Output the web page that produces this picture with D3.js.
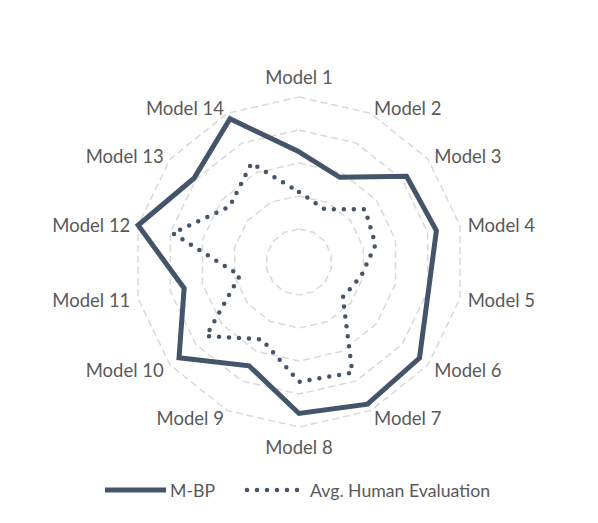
<!DOCTYPE html>
<html>
<head>
<meta charset="utf-8">
<script src="https://cdn.jsdelivr.net/npm/d3@7"></script>
<style>
  body { margin: 0; background: #fff; }
  text { font-family: Lato, "Open Sans", sans-serif; fill: #595959; }
</style>
</head>
<body>
<script>
const width = 598;
const height = 523;

// data
const models = ["Model 1", "Model 2", "Model 3", "Model 4", "Model 5", "Model 6", "Model 7",
                "Model 8", "Model 9", "Model 10", "Model 11", "Model 12", "Model 13", "Model 14"];
const mbp = [3.34, 2.85, 4.17, 4.27, 4.02, 4.67, 4.78, 4.59, 3.49, 4.65, 3.57, 5.0, 4.07, 4.82];
const human = [2.12, 1.78, 2.56, 2.38, 1.93, 1.70, 3.72, 3.63, 2.60, 3.60, 1.84, 3.93, 2.69, 3.32];
const levels = [1, 2, 3, 4, 5];
const seriesNames = ["M-BP", "Avg. Human Evaluation"];

const cx = 299, cy = 262, outer = 165;
const navy = "#44546a";

const svg = d3.select("body").append("svg")
    .attr("width", width)
    .attr("height", height);

const g = svg.append("g").attr("transform", `translate(${cx},${cy})`);

const r = d3.scaleLinear().domain([0, 5]).range([0, outer]);
const step = 2 * Math.PI / models.length;
const ang = i => i * step;

const radial = d3.lineRadial()
    .angle((d, i) => ang(i))
    .radius(d => r(d))
    .curve(d3.curveLinearClosed);

// grid rings
g.append("g").selectAll("path")
  .data(levels)
  .enter().append("path")
  .attr("d", lv => radial(models.map(() => lv)))
  .attr("fill", "none")
  .attr("stroke", "#d9d9d9")
  .attr("stroke-width", 1.5)
  .attr("stroke-dasharray", "7 4");

// category labels
const labelR = outer + 8;
g.append("g").selectAll("text")
  .data(models)
  .enter().append("text")
  .attr("x", (d, i) => labelR * Math.sin(ang(i)))
  .attr("y", (d, i) => {
    const y = -labelR * Math.cos(ang(i));
    if (i === 0) return y - 12;
    if (i === 7) return y + 12;
    return y + (i < 4 || i > 10 ? 1.5 : 0);
  })
  .attr("dominant-baseline", "central")
  .attr("text-anchor", (d, i) => i === 0 || i === 7 ? "middle" : (i < 7 ? "start" : "end"))
  .style("font-size", "18.5px")
  .text(d => d);

// series
g.append("path")
  .attr("d", radial(human))
  .attr("fill", "none")
  .attr("stroke", navy)
  .attr("stroke-width", 4.5)
  .attr("stroke-linecap", "round")
  .attr("stroke-dasharray", "0 10");

g.append("path")
  .attr("d", radial(mbp))
  .attr("fill", "none")
  .attr("stroke", navy)
  .attr("stroke-width", 5)
  .attr("stroke-linejoin", "miter");

// legend
const legend = svg.append("g").attr("transform", "translate(0,490)");
legend.append("line")
  .attr("x1", 105).attr("x2", 166).attr("y1", 0).attr("y2", 0)
  .attr("stroke", navy).attr("stroke-width", 5);
legend.append("text")
  .attr("x", 170).attr("y", 0)
  .attr("dominant-baseline", "central")
  .style("font-size", "17.7px")
  .text(seriesNames[0]);
legend.append("line")
  .attr("x1", 247).attr("x2", 299).attr("y1", 0).attr("y2", 0)
  .attr("stroke", navy).attr("stroke-width", 4.5)
  .attr("stroke-linecap", "round")
  .attr("stroke-dasharray", "0 10");
legend.append("text")
  .attr("x", 310).attr("y", 0)
  .attr("dominant-baseline", "central")
  .style("font-size", "17.7px")
  .text(seriesNames[1]);
</script>
</body>
</html>
